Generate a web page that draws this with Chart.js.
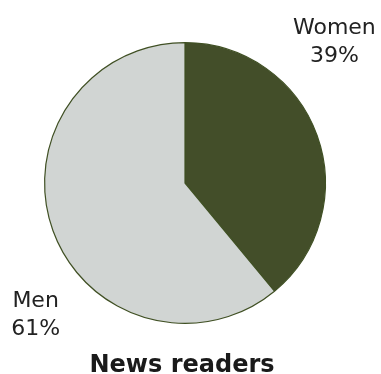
<!DOCTYPE html>
<html>
<head>
<meta charset="utf-8">
<script src="https://cdn.jsdelivr.net/npm/chart.js@4/dist/chart.umd.min.js"></script>
<style>
  html, body { margin: 0; padding: 0; background: #fff; }
  #wrap { width: 381px; height: 374px; position: relative; }
</style>
</head>
<body>
<div id="wrap"><canvas id="pie"></canvas></div>
<script>
const categories = ['Women', 'Men'];
const shares = [39, 61];
const sliceColors = ['#434e29', '#d1d5d3'];
const chartTitle = 'News readers';

const textFont = '"DejaVu Sans", Verdana, sans-serif';

// labels sit at the top-right and bottom-left corners of the pie
const cornerLabels = {
  id: 'cornerLabels',
  afterDraw(chart) {
    const arc = chart.getDatasetMeta(0).data[0];
    if (!arc) return;
    const { x, y, outerRadius: r } = arc.getProps(['x', 'y', 'outerRadius'], true);
    const ctx = chart.ctx;
    ctx.save();
    ctx.fillStyle = '#222';
    ctx.textAlign = 'center';
    ctx.textBaseline = 'middle';
    ctx.font = '22px ' + textFont;
    const spots = [
      { dx: r * 1.064, dy: -r * 1.105 },
      { dx: -r * 1.064, dy: r * 0.84 }
    ];
    categories.forEach((name, i) => {
      const px = x + spots[i].dx;
      const py = y + spots[i].dy;
      ctx.fillText(name, px, py);
      ctx.fillText(shares[i] + '%', px, py + 28);
    });
    ctx.font = 'bold 24px ' + textFont;
    ctx.fillStyle = '#1a1a1a';
    ctx.textBaseline = 'alphabetic';
    ctx.fillText(chartTitle, x - 3, y + 189);
    ctx.restore();
  }
};

new Chart(document.getElementById('pie'), {
  type: 'pie',
  data: {
    labels: categories,
    datasets: [{
      data: shares,
      backgroundColor: sliceColors,
      borderColor: '#405024',
      borderWidth: 1.2
    }]
  },
  options: {
    responsive: true,
    maintainAspectRatio: false,
    animation: false,
    layout: { padding: { top: 42, left: 44, right: 55, bottom: 50 } },
    plugins: {
      legend: { display: false },
      tooltip: { enabled: false }
    }
  },
  plugins: [cornerLabels]
});
</script>
</body>
</html>
